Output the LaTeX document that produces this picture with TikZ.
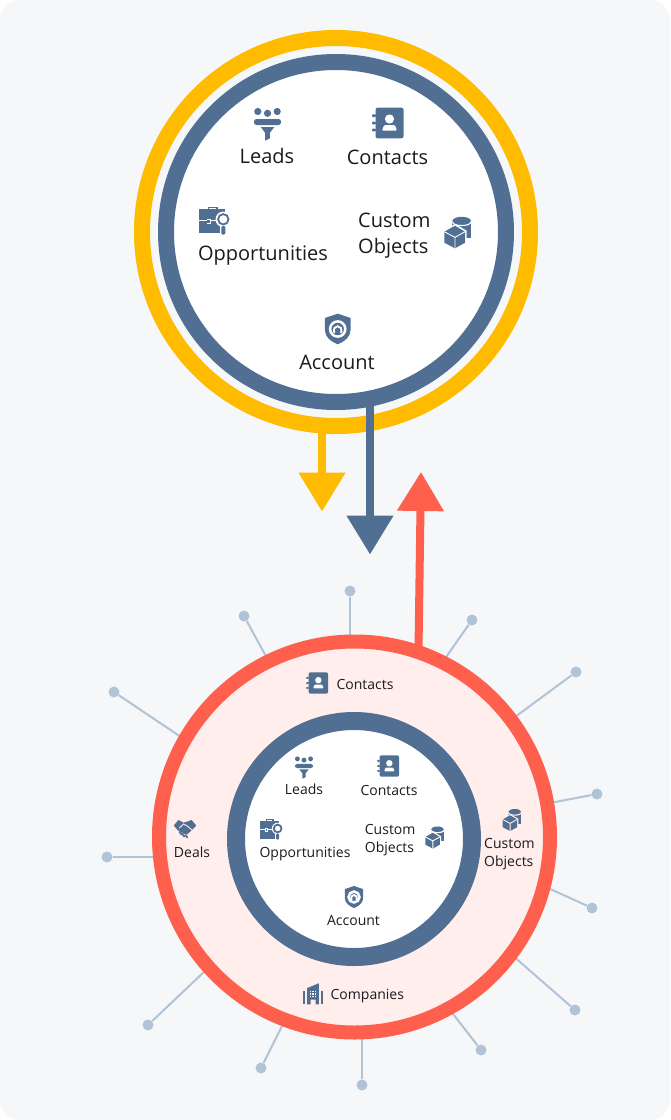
\documentclass[tikz,border=0pt]{standalone}
\usepackage{fontspec}
\setmainfont{Open Sans}
\usetikzlibrary{arrows.meta}
\definecolor{pagebg}{HTML}{F5F7F9}
\definecolor{steel}{HTML}{516F93}
\definecolor{amber}{HTML}{FFBB00}
\definecolor{coral}{HTML}{FF5F4D}
\definecolor{blush}{HTML}{FFEEEB}
\definecolor{spokeblue}{HTML}{B1C3D7}
\definecolor{inktext}{HTML}{1B1B1F}
\tikzset{
	bigtext/.style={font=\fontsize{20}{26}\selectfont, text=inktext, align=left, inner sep=0},
	smalltext/.style={font=\fontsize{14}{18}\selectfont, text=inktext, align=left, inner sep=0},
	ring/.style={circle, inner sep=0, line width=#1},
	spoke/.style={draw=spokeblue, line width=2pt},
	spokedot/.style={circle, fill=spokeblue, inner sep=0, minimum size=11pt},
	flow/.style={line width=8pt, -{Triangle[width=45pt, length=39pt]}},
	icon/.style={fill=steel, draw=none},
	iconcut/.style={fill=white, draw=none},
}
% icons: (centre)(scale)(colour behind the icon)
\def\leadsicon(#1)(#2)(#3){\begin{scope}[shift={(#1)}, scale=#2]
	\fill[icon] (-9.7, -10.5) circle (3.6) (0, -8.7) circle (3.6) (9.7, -10.5) circle (3.6);
	\fill[icon, rounded corners=2.5pt] (-13.5, -3) rectangle (13.5, 3);
	\fill[icon] (-6.8, 5) -- (6.8, 5) -- (2.3, 11) -- (2.3, 16.5) -- (-2.3, 18.5) -- (-2.3, 11) -- cycle;
\end{scope}}
\def\contactsicon(#1)(#2)(#3){\begin{scope}[shift={(#1)}, scale=#2]
	\fill[icon, rounded corners=2pt] (-13.5, -15.3) rectangle (14.5, 15.3);
	\foreach \tab in {-7.3, 0, 7}
		\fill[icon, rounded corners=0.8pt] (-17, \tab-1.3) rectangle (-13, \tab+1.3);
	\fill[iconcut] (0.5, -4) circle (4.6);
	\fill[iconcut, rounded corners=1pt] (-7, 7.7) -- (-5, 2.2) -- (6, 2.2) -- (8, 7.7) -- cycle;
\end{scope}}
\def\opportunitiesicon(#1)(#2)(#3){\begin{scope}[shift={(#1)}, scale=#2]
	\draw[steel, line width=1.6pt] (-4.7, -10) -- (-4.7, -12.6) -- (3.7, -12.6) -- (3.7, -10);
	\fill[icon] (-14, -10.7) rectangle (12, 13.3);
	\fill[#3] (-14, 0.3) rectangle (12, 1.3);
	\fill[#3] (-6.5, -1) rectangle (-2.5, 3.5);
	\fill[icon] (-5.6, -0.2) rectangle (-3.4, 2.6);
	\fill[#3] (10.3, -0.7) circle (7.8);
	\fill[#3] (7.4, 6) rectangle (13.2, 14);
	\draw[steel, line width=1.8pt] (10.3, -0.7) circle (5.2);
	\fill[icon, rounded corners=1.2pt] (8.3, 6) rectangle (12.3, 14.5);
\end{scope}}
\def\objectsicon(#1)(#2)(#3){\begin{scope}[shift={(#1)}, scale=#2]
	\fill[icon] (-5.3, -11.5) rectangle (13.3, 5.5);
	\fill[icon] (4, -11.5) ellipse (9.3 and 4.2);
	\draw[#3, line width=1.1pt] (-5.3, -11) .. controls (-5.3, -5.6) and (13.3, -5.6) .. (13.3, -11);
	\fill[#3] (-2.7, -8.6) -- (9, -1.8) -- (9, 11.4) -- (-2.7, 17.6) -- (-15.2, 11.4) -- (-15.2, -1.8) -- cycle;
	\fill[icon] (-2.7, -6.8) -- (7.3, -0.8) -- (7.3, 10.2) -- (-2.7, 15.8) -- (-13.4, 10.2) -- (-13.4, -0.8) -- cycle;
	\draw[#3, line width=0.9pt] (-13.4, -0.8) -- (-2.7, 4.8) -- (7.3, -0.8) (-2.7, 4.8) -- (-2.7, 15.8);
\end{scope}}
\def\accounticon(#1)(#2)(#3){\begin{scope}[shift={(#1)}, scale=#2]
	\fill[icon] (0, -15.3) -- (12.8, -11) -- (12.8, 1) .. controls (12.8, 8) and (7, 12.5) .. (0, 15.3) .. controls (-7, 12.5) and (-12.8, 8) .. (-12.8, 1) -- (-12.8, -11) -- cycle;
	\draw[white, line width=2.5pt] (0, 0) circle (7.6);
	\draw[white, line width=1.9pt] (-3.4, 4) .. controls (-6.2, -5) and (6.2, -5) .. (3.4, 4);
\end{scope}}
\def\dealsicon(#1)(#2)(#3){\begin{scope}[shift={(#1)}, scale=#2]
	\fill[icon] (-11.2, -3.5) -- (-6.6, -9) -- (-1.6, -6.4) -- (3, -7.6) -- (6.6, -9) -- (11.2, -3.5) -- (7, 1) -- (2, 5.5) -- (-2, 4.5) -- (-7.5, 1) -- cycle;
	\draw[#3, line width=0.9pt] (-5.8, -1) -- (-1.4, -5) -- (2.6, -2.8) -- (7, 1);
	\draw[steel, line width=1.7pt, line cap=round] (-5.6, 3) -- (-3.4, 5.6) (-2.6, 5) -- (-0.8, 7.6) (0.4, 6) -- (2.2, 8.4);
\end{scope}}
\def\companiesicon(#1)(#2)(#3){\begin{scope}[shift={(#1)}, scale=#2]
	\fill[icon] (-10.3, -3.5) -- (-7.6, -3.5) -- (-7.6, 10.3) -- (-10.3, 10.3) -- cycle;
	\fill[icon] (7.6, -3.5) -- (10.3, -3.5) -- (10.3, 10.3) -- (7.6, 10.3) -- cycle;
	\fill[icon] (-5.8, -6) -- (5.8, -10.7) -- (5.8, 10.3) -- (2.5, 10.3) -- (2.5, 5.5) -- (-2.5, 5.5) -- (-2.5, 10.3) -- (-5.8, 10.3) -- cycle;
	\foreach \wx in {-3, -0.6, 1.8}
		\foreach \wy in {-3, -0.6, 1.8}
			\fill[#3] (\wx, \wy) rectangle ++(1.3, 1.3);
	\fill[#3] (-0.4, 6.5) rectangle (0.4, 10.3);
\end{scope}}

\begin{document}
\begin{tikzpicture}[x=1pt, y=-1pt]
	\useasboundingbox (0, 0) rectangle (670, 1120);
	\fill[pagebg, rounded corners=20pt] (0, 0) rectangle (670, 1120);

	% top circles
	\node[ring=16pt, draw=amber, minimum size=388pt] (amberring) at (336, 232) {};
	\coordinate (ambertail) at (322, 428);
	\coordinate (ambertip) at (322, 511.5);
	\draw[flow, amber] (ambertail) -- (ambertip);

	\node[ring=16pt, draw=steel, fill=white, minimum size=340pt] (steelring) at (336, 232) {};
	\coordinate (steeltail) at (370, 404);
	\coordinate (steeltip) at (370, 554.5);
	\draw[flow, steel] (steeltail) -- (steeltip);

	\node[bigtext] (leads) at (267, 156) {Leads};
	\node[bigtext] (contacts) at (387.5, 157) {Contacts};
	\node[bigtext] (opportunities) at (263, 255.5) {Opportunities};
	\node[bigtext, anchor=west] (objects) at (358, 236) {Custom\\Objects};
	\node[bigtext] (account) at (337, 362.5) {Account};
	\leadsicon(267.5, 122)(1)(white)
	\contactsicon(389, 123)(1)(white)
	\opportunitiesicon(213, 220)(1)(white)
	\objectsicon(457.7, 232.5)(1)(white)
	\accounticon(337.7, 329)(1)(white)

	% spokes
	\foreach \i/\dx/\dy/\ex/\ey in {1/350/591/350/640, 2/244/616/268/660, 3/472/620/444/660, 4/576/672/515/717,
			5/597/794/550/803, 6/592/908/548/888, 7/575/1010/512/955, 8/481/1050/450/1010, 9/362/1085/362/1035,
			10/261/1068/284/1022, 11/148/1025/206/970, 12/107/857/158/857, 13/114/692/184/739} {
		\node[spokedot] (dot\i) at (\dx, \dy) {};
		\coordinate (end\i) at (\ex, \ey);
		\draw[spoke] (dot\i) -- (end\i);
	}

	% bottom circles
	\coordinate (coraltail) at (418.5, 650);
	\coordinate (coraltip) at (421, 472);
	\draw[flow, coral] (coraltail) -- (coraltip);
	\node[ring=14pt, draw=coral, fill=blush, minimum size=391pt] (coralring) at (354.5, 837) {};
	\node[ring=18pt, draw=steel, fill=white, minimum size=236pt] (innerring) at (354, 839) {};

	\node[smalltext] (outercontacts) at (365, 684) {Contacts};
	\node[smalltext] (deals) at (192, 852.7) {Deals};
	\node[smalltext, anchor=west] (outerobjects) at (484, 854) {Custom\\Objects};
	\node[smalltext] (companies) at (367.3, 996.5) {Companies};
	\contactsicon(318, 683)(0.7)(blush)
	\dealsicon(185, 829)(1)(blush)
	\objectsicon(512, 820)(0.7)(blush)
	\companiesicon(313, 994)(1)(blush)

	\node[smalltext] (innerleads) at (304, 789.5) {Leads};
	\node[smalltext] (innercontacts) at (389, 790) {Contacts};
	\node[smalltext] (inneropportunities) at (305, 854) {Opportunities};
	\node[smalltext, anchor=west] (innerobjects) at (364.7, 840) {Custom\\Objects};
	\node[smalltext] (inneraccount) at (353.5, 920.8) {Account};
	\leadsicon(304, 766)(0.68)(white)
	\contactsicon(389, 766)(0.7)(white)
	\opportunitiesicon(270, 829)(0.74)(white)
	\objectsicon(434.7, 837.5)(0.7)(white)
	\accounticon(354, 897)(0.72)(white)
\end{tikzpicture}
\end{document}
